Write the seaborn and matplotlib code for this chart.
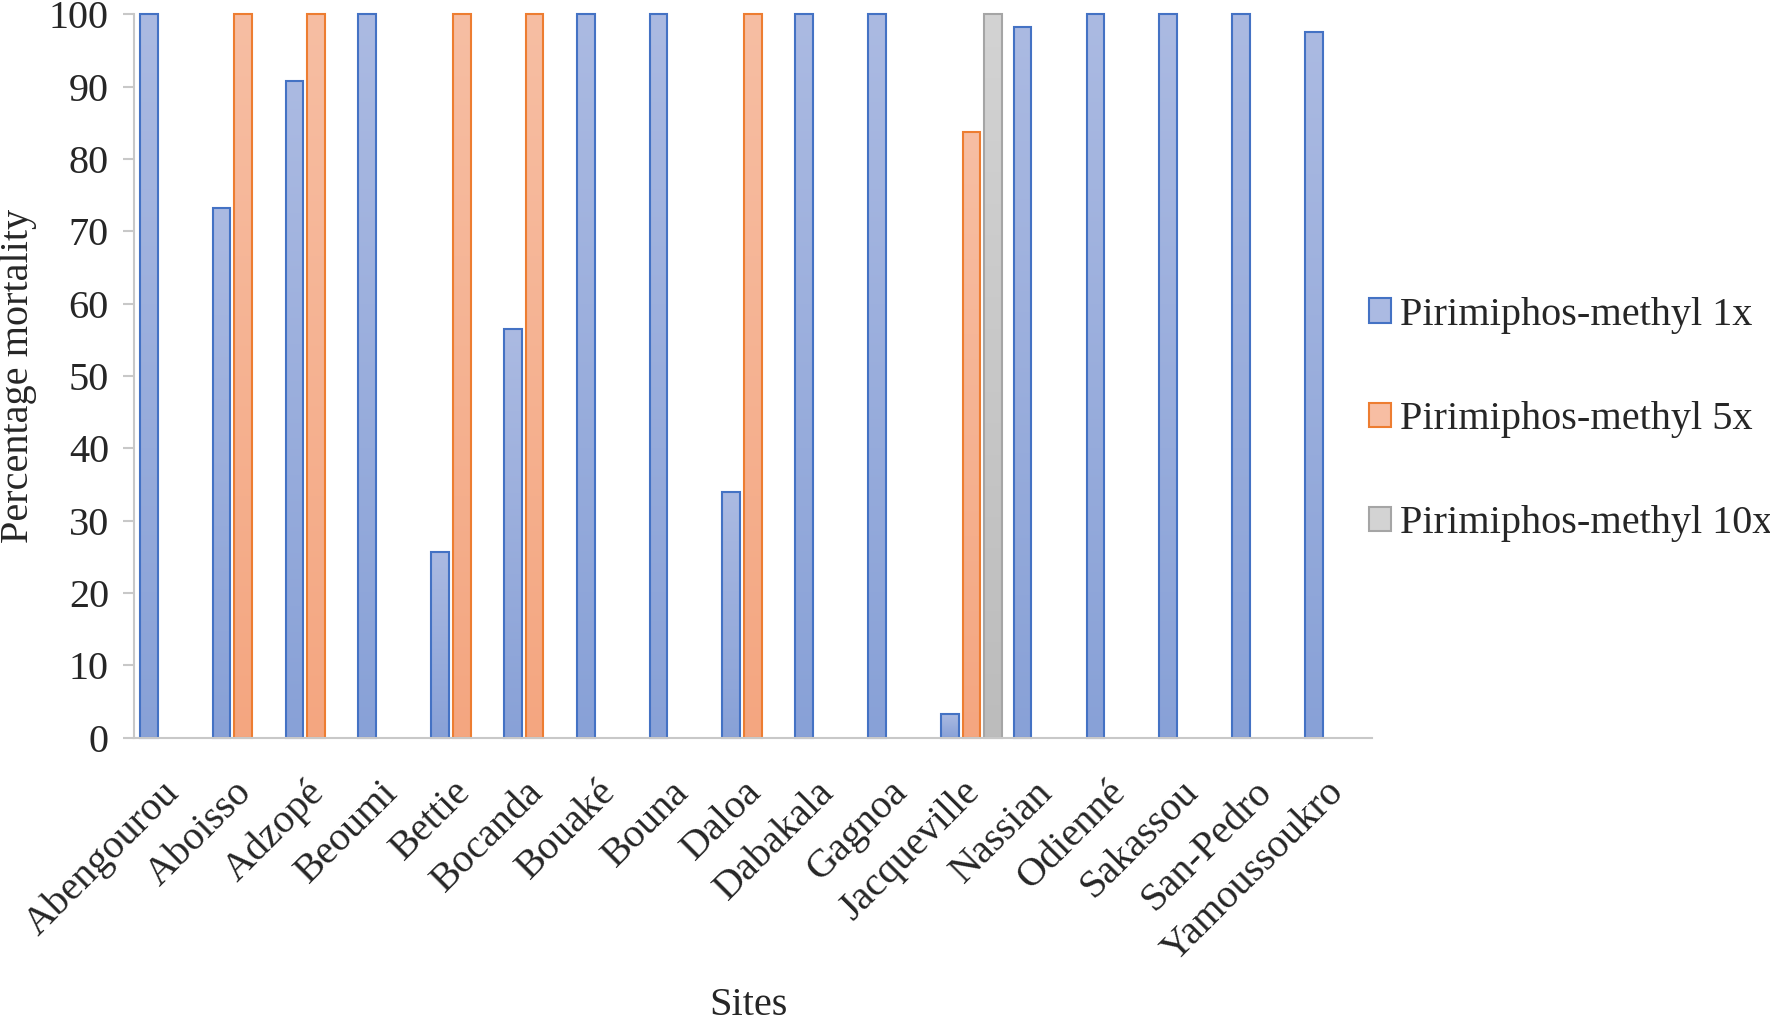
import numpy as np
import pandas as pd
import matplotlib
matplotlib.use("Agg")
import matplotlib.pyplot as plt
import seaborn as sns
from matplotlib.colors import LinearSegmentedColormap
from matplotlib.patches import Patch
from matplotlib.transforms import ScaledTranslation

# values
sites = ["Abengourou", "Aboisso", "Adzopé", "Beoumi", "Bettie", "Bocanda",
         "Bouaké", "Bouna", "Daloa", "Dabakala", "Gagnoa", "Jacqueville",
         "Nassian", "Odienné", "Sakassou", "San-Pedro", "Yamoussoukro"]
dose_1x = [100, 73.2, 90.8, 100, 25.7, 56.5, 100, 100, 34.0, 100, 100, 3.3,
           98.2, 100, 100, 100, 97.6]
dose_5x = [None, 100, 100, None, 100, 100, None, None, 100, None, None, 83.7,
           None, None, None, None, None]
dose_10x = [None, None, None, None, None, None, None, None, None, None, None, 100,
            None, None, None, None, None]
series = ["Pirimiphos-methyl 1x", "Pirimiphos-methyl 5x", "Pirimiphos-methyl 10x"]

rows = []
for name, vals in zip(series, [dose_1x, dose_5x, dose_10x]):
    for site, v in zip(sites, vals):
        if v is not None:
            rows.append({"site": site, "treatment": name, "mortality": v})
df = pd.DataFrame(rows)

top_cols = ["#abbae2", "#f7bea3", "#d3d3d3"]
bot_cols = ["#88a1d7", "#f4a680", "#bcbcbc"]
edge_cols = ["#4472c4", "#ed7d31", "#a5a5a5"]

sns.set_style("white")
plt.rcParams['font.family'] = ['Liberation Serif', 'DejaVu Serif']

fig = plt.figure(figsize=(17.7, 10.26), dpi=100)
ax = fig.add_axes([0.0757, 0.2811, 0.6994, 0.7050])

sns.barplot(data=df, x="site", y="mortality", hue="treatment",
            order=sites, hue_order=series, palette=top_cols,
            width=0.89, gap=0.18, legend=False, ax=ax, errorbar=None)

# excel-like vertical gradient fill per bar
grad = np.linspace(0, 1, 256).reshape(-1, 1)
for cont, ct, cb, ce in zip(ax.containers, top_cols, bot_cols, edge_cols):
    cmap = LinearSegmentedColormap.from_list("g", [cb, ct])
    for bar in cont:
        h = bar.get_height()
        if not np.isfinite(h) or h <= 0:
            continue
        x0, w = bar.get_x(), bar.get_width()
        im = ax.imshow(grad, extent=[x0, x0 + w, 0, h], origin="lower",
                       cmap=cmap, aspect="auto", zorder=1.5)
        im.set_clip_path(bar)
        bar.set_facecolor("none")
        bar.set_edgecolor(ce)
        bar.set_linewidth(1.5)
        bar.set_zorder(2)
        bar.set_clip_on(False)

ax.set_xlim(-0.5, len(sites) - 0.5)
ax.set_ylim(0, 100)
ax.set_yticks(range(0, 101, 10))

for s in ["top", "right"]:
    ax.spines[s].set_visible(False)
for s in ["left", "bottom"]:
    ax.spines[s].set_color("#c8c8c8")
    ax.spines[s].set_linewidth(1.5)

ax.tick_params(axis="y", length=8, width=1.5, color="#c8c8c8", pad=10,
               labelsize=29, left=True)
ax.tick_params(axis="x", length=0, pad=26, labelsize=29)
shift = ScaledTranslation(-0.10, 0, fig.dpi_scale_trans)
for lab in ax.get_xticklabels():
    lab.set_rotation(45)
    lab.set_ha("right")
    lab.set_va("top")
    lab.set_rotation_mode("anchor")
    lab.set_transform(lab.get_transform() + shift)

ax.set_xlabel("Sites", fontsize=29)
ax.xaxis.set_label_coords(0.496, -0.345)
ax.set_ylabel("Percentage mortality", fontsize=29)
ax.yaxis.set_label_coords(-0.0784, 0.5)

handles = [Patch(facecolor=ct, edgecolor=ce, linewidth=1.5)
           for ct, ce in zip(top_cols, edge_cols)]
ax.legend(handles, series, loc="center left", bbox_to_anchor=(0.9976, 0.4396),
          frameon=False, fontsize=29, handlelength=0.55, handleheight=0.55,
          handletextpad=0.22, labelspacing=1.67, borderpad=0, borderaxespad=0)

fig.savefig("out.png", dpi=100)
